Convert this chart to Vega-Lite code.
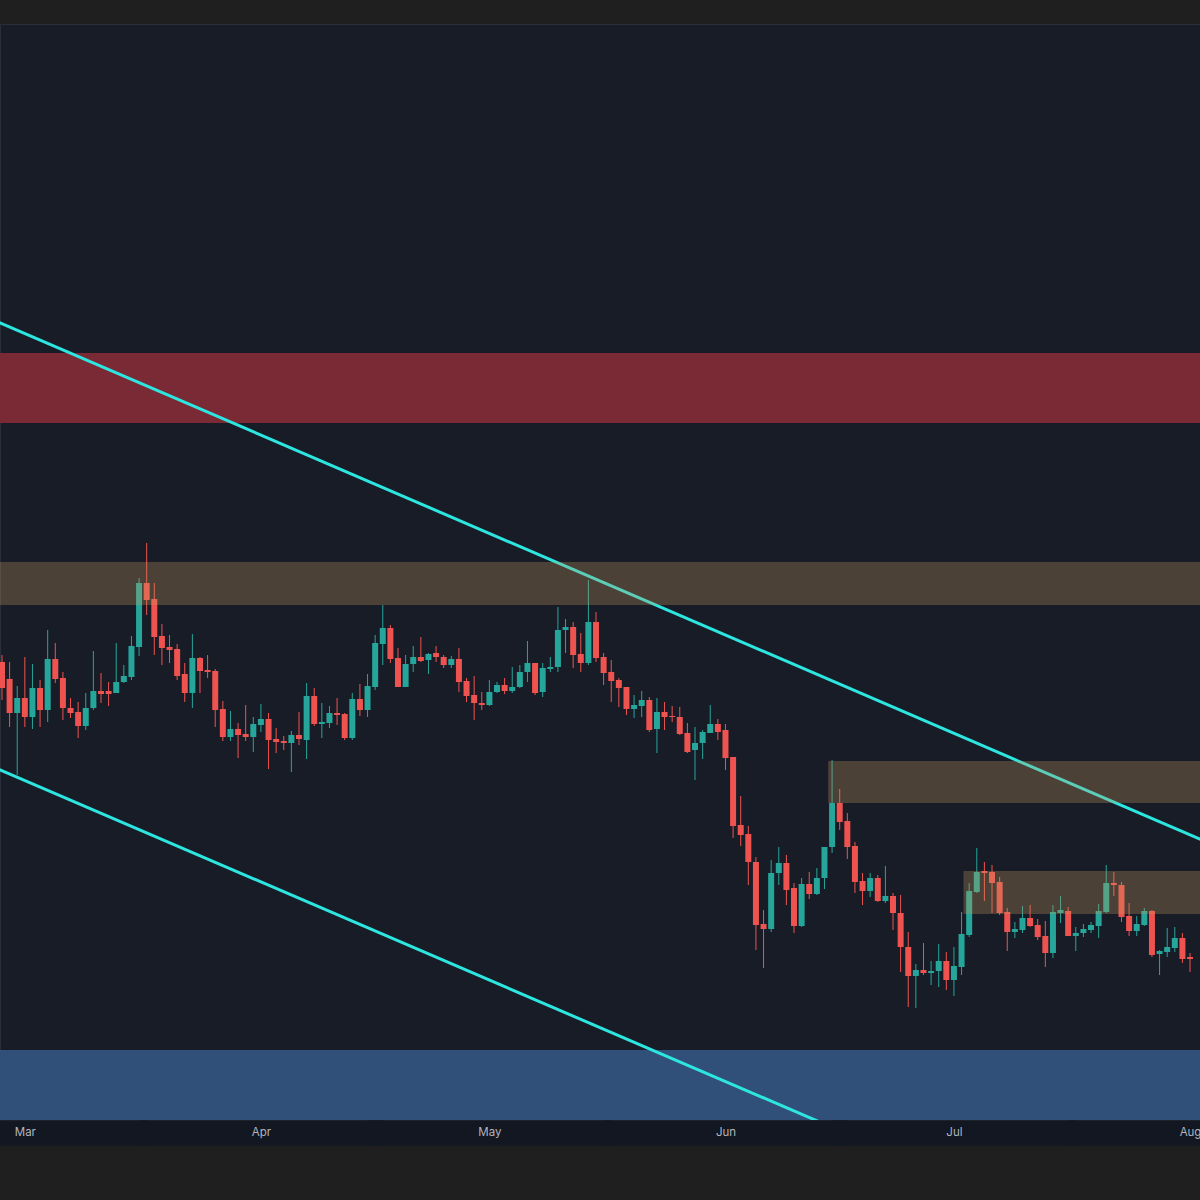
{
  "$schema": "https://vega.github.io/schema/vega-lite/v6.json",
  "width": 1200,
  "height": 1096,
  "autosize": {"type": "none"},
  "padding": {"top": 24, "left": 0, "right": 0, "bottom": 80},
  "background": "#1f1f1f",
  "config": {
    "view": {"fill": "#181c27", "stroke": "#2a2e39", "strokeWidth": 1},
    "axis": {"grid": false}
  },
  "datasets": {
    "candles": [
      {"d": "2023-02-26", "o": 458, "h": 465, "l": 420, "c": 432},
      {"d": "2023-02-27", "o": 441, "h": 458, "l": 393, "c": 407},
      {"d": "2023-02-28", "o": 407, "h": 434, "l": 345, "c": 422},
      {"d": "2023-03-01", "o": 422, "h": 463, "l": 393, "c": 403},
      {"d": "2023-03-02", "o": 403, "h": 456, "l": 391, "c": 432},
      {"d": "2023-03-03", "o": 432, "h": 440, "l": 393, "c": 410},
      {"d": "2023-03-04", "o": 410, "h": 490, "l": 398, "c": 461},
      {"d": "2023-03-05", "o": 461, "h": 477, "l": 437, "c": 441},
      {"d": "2023-03-06", "o": 442, "h": 448, "l": 400, "c": 412},
      {"d": "2023-03-07", "o": 412, "h": 422, "l": 402, "c": 407},
      {"d": "2023-03-08", "o": 408, "h": 418, "l": 382, "c": 394},
      {"d": "2023-03-09", "o": 394, "h": 427, "l": 390, "c": 412},
      {"d": "2023-03-10", "o": 412, "h": 469, "l": 410, "c": 429},
      {"d": "2023-03-11", "o": 429, "h": 447, "l": 417, "c": 426},
      {"d": "2023-03-12", "o": 429, "h": 438, "l": 414, "c": 426},
      {"d": "2023-03-13", "o": 427, "h": 477, "l": 427, "c": 438},
      {"d": "2023-03-14", "o": 438, "h": 455, "l": 437, "c": 444},
      {"d": "2023-03-15", "o": 443, "h": 484, "l": 440, "c": 474},
      {"d": "2023-03-16", "o": 473, "h": 542, "l": 464, "c": 537},
      {"d": "2023-03-17", "o": 537, "h": 577, "l": 505, "c": 520},
      {"d": "2023-03-18", "o": 521, "h": 537, "l": 465, "c": 483},
      {"d": "2023-03-19", "o": 484, "h": 496, "l": 455, "c": 472},
      {"d": "2023-03-20", "o": 473, "h": 485, "l": 457, "c": 470},
      {"d": "2023-03-21", "o": 471, "h": 476, "l": 440, "c": 444},
      {"d": "2023-03-22", "o": 446, "h": 457, "l": 418, "c": 427},
      {"d": "2023-03-23", "o": 427, "h": 486, "l": 412, "c": 462},
      {"d": "2023-03-24", "o": 462, "h": 463, "l": 427, "c": 449},
      {"d": "2023-03-25", "o": 450, "h": 465, "l": 442, "c": 448},
      {"d": "2023-03-26", "o": 449, "h": 451, "l": 393, "c": 410},
      {"d": "2023-03-27", "o": 411, "h": 419, "l": 379, "c": 383},
      {"d": "2023-03-28", "o": 383, "h": 409, "l": 379, "c": 391},
      {"d": "2023-03-29", "o": 391, "h": 397, "l": 362, "c": 385},
      {"d": "2023-03-30", "o": 386, "h": 415, "l": 379, "c": 383},
      {"d": "2023-03-31", "o": 383, "h": 403, "l": 368, "c": 396},
      {"d": "2023-04-01", "o": 395, "h": 416, "l": 388, "c": 401},
      {"d": "2023-04-02", "o": 401, "h": 407, "l": 351, "c": 380},
      {"d": "2023-04-03", "o": 381, "h": 392, "l": 367, "c": 378},
      {"d": "2023-04-04", "o": 379, "h": 384, "l": 370, "c": 377},
      {"d": "2023-04-05", "o": 377, "h": 389, "l": 348, "c": 385},
      {"d": "2023-04-06", "o": 385, "h": 408, "l": 375, "c": 381},
      {"d": "2023-04-07", "o": 380, "h": 437, "l": 361, "c": 424},
      {"d": "2023-04-08", "o": 424, "h": 432, "l": 394, "c": 396},
      {"d": "2023-04-09", "o": 396, "h": 417, "l": 382, "c": 398},
      {"d": "2023-04-10", "o": 397, "h": 414, "l": 392, "c": 407},
      {"d": "2023-04-11", "o": 407, "h": 422, "l": 395, "c": 405},
      {"d": "2023-04-12", "o": 406, "h": 407, "l": 380, "c": 382},
      {"d": "2023-04-13", "o": 382, "h": 427, "l": 380, "c": 421},
      {"d": "2023-04-14", "o": 421, "h": 436, "l": 404, "c": 410},
      {"d": "2023-04-15", "o": 410, "h": 446, "l": 403, "c": 434},
      {"d": "2023-04-16", "o": 433, "h": 485, "l": 430, "c": 477},
      {"d": "2023-04-17", "o": 476, "h": 515, "l": 455, "c": 492},
      {"d": "2023-04-18", "o": 492, "h": 495, "l": 457, "c": 461},
      {"d": "2023-04-19", "o": 462, "h": 472, "l": 433, "c": 433},
      {"d": "2023-04-20", "o": 433, "h": 465, "l": 433, "c": 456},
      {"d": "2023-04-21", "o": 456, "h": 474, "l": 448, "c": 463},
      {"d": "2023-04-22", "o": 463, "h": 483, "l": 458, "c": 459},
      {"d": "2023-04-23", "o": 460, "h": 467, "l": 446, "c": 466},
      {"d": "2023-04-24", "o": 467, "h": 474, "l": 458, "c": 463},
      {"d": "2023-04-25", "o": 463, "h": 465, "l": 452, "c": 455},
      {"d": "2023-04-26", "o": 455, "h": 464, "l": 452, "c": 461},
      {"d": "2023-04-27", "o": 461, "h": 472, "l": 428, "c": 438},
      {"d": "2023-04-28", "o": 439, "h": 442, "l": 418, "c": 424},
      {"d": "2023-04-29", "o": 425, "h": 444, "l": 400, "c": 417},
      {"d": "2023-04-30", "o": 417, "h": 428, "l": 410, "c": 415},
      {"d": "2023-05-01", "o": 415, "h": 440, "l": 414, "c": 428},
      {"d": "2023-05-02", "o": 428, "h": 438, "l": 427, "c": 435},
      {"d": "2023-05-03", "o": 435, "h": 442, "l": 426, "c": 429},
      {"d": "2023-05-04", "o": 429, "h": 453, "l": 427, "c": 433},
      {"d": "2023-05-05", "o": 433, "h": 455, "l": 432, "c": 448},
      {"d": "2023-05-06", "o": 448, "h": 479, "l": 438, "c": 457},
      {"d": "2023-05-07", "o": 457, "h": 457, "l": 425, "c": 427},
      {"d": "2023-05-08", "o": 428, "h": 457, "l": 423, "c": 452},
      {"d": "2023-05-09", "o": 451, "h": 463, "l": 448, "c": 453},
      {"d": "2023-05-10", "o": 453, "h": 513, "l": 448, "c": 490},
      {"d": "2023-05-11", "o": 490, "h": 501, "l": 467, "c": 493},
      {"d": "2023-05-12", "o": 493, "h": 498, "l": 452, "c": 465},
      {"d": "2023-05-13", "o": 466, "h": 487, "l": 448, "c": 457},
      {"d": "2023-05-14", "o": 457, "h": 540, "l": 455, "c": 498},
      {"d": "2023-05-15", "o": 498, "h": 508, "l": 458, "c": 462},
      {"d": "2023-05-16", "o": 463, "h": 467, "l": 435, "c": 447},
      {"d": "2023-05-17", "o": 448, "h": 460, "l": 418, "c": 439},
      {"d": "2023-05-18", "o": 440, "h": 442, "l": 413, "c": 432},
      {"d": "2023-05-19", "o": 433, "h": 433, "l": 405, "c": 411},
      {"d": "2023-05-20", "o": 411, "h": 425, "l": 402, "c": 415},
      {"d": "2023-05-21", "o": 414, "h": 429, "l": 403, "c": 420},
      {"d": "2023-05-22", "o": 420, "h": 423, "l": 388, "c": 390},
      {"d": "2023-05-23", "o": 391, "h": 422, "l": 367, "c": 408},
      {"d": "2023-05-24", "o": 408, "h": 418, "l": 390, "c": 403},
      {"d": "2023-05-25", "o": 404, "h": 414, "l": 398, "c": 403},
      {"d": "2023-05-26", "o": 403, "h": 413, "l": 385, "c": 386},
      {"d": "2023-05-27", "o": 387, "h": 397, "l": 367, "c": 368},
      {"d": "2023-05-28", "o": 370, "h": 393, "l": 340, "c": 377},
      {"d": "2023-05-29", "o": 377, "h": 390, "l": 361, "c": 388},
      {"d": "2023-05-30", "o": 387, "h": 415, "l": 387, "c": 396},
      {"d": "2023-05-31", "o": 396, "h": 401, "l": 380, "c": 388},
      {"d": "2023-06-01", "o": 390, "h": 396, "l": 350, "c": 362},
      {"d": "2023-06-02", "o": 363, "h": 363, "l": 282, "c": 294},
      {"d": "2023-06-03", "o": 295, "h": 324, "l": 274, "c": 285},
      {"d": "2023-06-04", "o": 286, "h": 294, "l": 235, "c": 258},
      {"d": "2023-06-05", "o": 258, "h": 263, "l": 170, "c": 195},
      {"d": "2023-06-06", "o": 196, "h": 210, "l": 152, "c": 191},
      {"d": "2023-06-07", "o": 191, "h": 260, "l": 188, "c": 247},
      {"d": "2023-06-08", "o": 247, "h": 273, "l": 235, "c": 257},
      {"d": "2023-06-09", "o": 257, "h": 265, "l": 215, "c": 230},
      {"d": "2023-06-10", "o": 232, "h": 237, "l": 187, "c": 194},
      {"d": "2023-06-11", "o": 194, "h": 242, "l": 193, "c": 236},
      {"d": "2023-06-12", "o": 236, "h": 248, "l": 221, "c": 226},
      {"d": "2023-06-13", "o": 226, "h": 252, "l": 225, "c": 242},
      {"d": "2023-06-14", "o": 242, "h": 273, "l": 231, "c": 273},
      {"d": "2023-06-15", "o": 273, "h": 360, "l": 267, "c": 317},
      {"d": "2023-06-16", "o": 317, "h": 331, "l": 290, "c": 298},
      {"d": "2023-06-17", "o": 299, "h": 307, "l": 261, "c": 273},
      {"d": "2023-06-18", "o": 274, "h": 278, "l": 227, "c": 238},
      {"d": "2023-06-19", "o": 239, "h": 247, "l": 215, "c": 229},
      {"d": "2023-06-20", "o": 229, "h": 247, "l": 223, "c": 242},
      {"d": "2023-06-21", "o": 242, "h": 245, "l": 218, "c": 219},
      {"d": "2023-06-22", "o": 219, "h": 254, "l": 217, "c": 224},
      {"d": "2023-06-23", "o": 224, "h": 227, "l": 190, "c": 207},
      {"d": "2023-06-24", "o": 207, "h": 225, "l": 148, "c": 173},
      {"d": "2023-06-25", "o": 173, "h": 188, "l": 113, "c": 144},
      {"d": "2023-06-26", "o": 144, "h": 156, "l": 112, "c": 150},
      {"d": "2023-06-27", "o": 150, "h": 177, "l": 145, "c": 147},
      {"d": "2023-06-28", "o": 147, "h": 159, "l": 135, "c": 149},
      {"d": "2023-06-29", "o": 149, "h": 176, "l": 133, "c": 159},
      {"d": "2023-06-30", "o": 159, "h": 168, "l": 130, "c": 140},
      {"d": "2023-07-01", "o": 140, "h": 173, "l": 124, "c": 154},
      {"d": "2023-07-02", "o": 153, "h": 208, "l": 145, "c": 186},
      {"d": "2023-07-03", "o": 185, "h": 237, "l": 183, "c": 229},
      {"d": "2023-07-04", "o": 228, "h": 272, "l": 227, "c": 248},
      {"d": "2023-07-05", "o": 249, "h": 258, "l": 219, "c": 247},
      {"d": "2023-07-06", "o": 248, "h": 255, "l": 207, "c": 237},
      {"d": "2023-07-07", "o": 238, "h": 243, "l": 205, "c": 207},
      {"d": "2023-07-08", "o": 208, "h": 212, "l": 169, "c": 188},
      {"d": "2023-07-09", "o": 188, "h": 198, "l": 182, "c": 191},
      {"d": "2023-07-10", "o": 190, "h": 214, "l": 187, "c": 202},
      {"d": "2023-07-11", "o": 202, "h": 215, "l": 193, "c": 194},
      {"d": "2023-07-12", "o": 195, "h": 201, "l": 180, "c": 183},
      {"d": "2023-07-13", "o": 184, "h": 199, "l": 153, "c": 167},
      {"d": "2023-07-14", "o": 167, "h": 215, "l": 162, "c": 208},
      {"d": "2023-07-15", "o": 207, "h": 224, "l": 197, "c": 210},
      {"d": "2023-07-16", "o": 209, "h": 213, "l": 184, "c": 184},
      {"d": "2023-07-17", "o": 184, "h": 193, "l": 169, "c": 187},
      {"d": "2023-07-18", "o": 187, "h": 196, "l": 183, "c": 191},
      {"d": "2023-07-19", "o": 190, "h": 198, "l": 187, "c": 195},
      {"d": "2023-07-20", "o": 194, "h": 216, "l": 182, "c": 209},
      {"d": "2023-07-21", "o": 208, "h": 255, "l": 207, "c": 237},
      {"d": "2023-07-22", "o": 237, "h": 248, "l": 224, "c": 235},
      {"d": "2023-07-23", "o": 235, "h": 238, "l": 198, "c": 203},
      {"d": "2023-07-24", "o": 204, "h": 217, "l": 184, "c": 189},
      {"d": "2023-07-25", "o": 189, "h": 204, "l": 184, "c": 196},
      {"d": "2023-07-26", "o": 195, "h": 212, "l": 194, "c": 209},
      {"d": "2023-07-27", "o": 209, "h": 210, "l": 163, "c": 165},
      {"d": "2023-07-28", "o": 166, "h": 170, "l": 145, "c": 169},
      {"d": "2023-07-29", "o": 168, "h": 192, "l": 163, "c": 173},
      {"d": "2023-07-30", "o": 172, "h": 193, "l": 168, "c": 182},
      {"d": "2023-07-31", "o": 182, "h": 187, "l": 157, "c": 161},
      {"d": "2023-08-01", "o": 163, "h": 167, "l": 148, "c": 161}
    ],
    "wideZones": [
      {"zone": "supply", "top": 767, "bot": 697},
      {"zone": "demand", "top": 70, "bot": 0}
    ],
    "tanZones": [
      {"start": "2023-02-01", "end": "2023-08-20", "top": 558, "bot": 515},
      {"start": "2023-06-14T12:00:00Z", "end": "2023-08-20", "top": 359, "bot": 317},
      {"start": "2023-07-02T06:00:00Z", "end": "2023-08-20", "top": 249, "bot": 206}
    ],
    "channel": [
      {"side": "upper", "d": "2023-02-20", "p": 816},
      {"side": "upper", "d": "2023-08-10", "p": 255.6},
      {"side": "lower", "d": "2023-02-20", "p": 368.9},
      {"side": "lower", "d": "2023-08-10", "p": -190.5}
    ]
  },
  "layer": [
    {
      "data": {"name": "wideZones"},
      "mark": {"type": "rect", "clip": true},
      "encoding": {
        "y": {"field": "top", "type": "quantitative", "scale": {"domain": [0, 1096], "nice": false, "zero": false}, "axis": null},
        "y2": {"field": "bot"},
        "color": {
          "field": "zone",
          "type": "nominal",
          "scale": {"domain": ["supply", "demand"], "range": ["#7a2a35", "#30507a"]},
          "legend": null
        }
      }
    },
    {
      "data": {"name": "candles"},
      "mark": {"type": "rule", "strokeWidth": 1, "clip": true},
      "encoding": {
        "x": {
          "field": "d",
          "type": "temporal",
          "scale": {"type": "utc", "domain": ["2023-02-26T09:30:00Z", "2023-08-01T15:40:00Z"], "nice": false},
          "title": null,
          "axis": {
            "format": "%b",
            "tickCount": {"interval": "month", "step": 1},
            "domain": false,
            "ticks": true,
            "tickSize": 25,
            "tickWidth": 245,
            "tickColor": "#131722",
            "tickCap": "butt",
            "labelPadding": -12.5,
            "labelBaseline": "middle",
            "labelAlign": "center",
            "labelFlush": false,
            "labelBound": false,
            "labelOverlap": false,
            "labelColor": "#b2b5be",
            "labelFont": "Inter",
            "labelFontSize": 11.5
          }
        },
        "y": {"field": "l", "type": "quantitative"},
        "y2": {"field": "h"},
        "color": {"condition": {"test": "datum.c >= datum.o", "value": "#26a69a"}, "value": "#ef5350"}
      }
    },
    {
      "data": {"name": "candles"},
      "mark": {"type": "bar", "width": 6, "clip": true},
      "encoding": {
        "x": {"field": "d", "type": "temporal"},
        "y": {"field": "o", "type": "quantitative"},
        "y2": {"field": "c"},
        "color": {"condition": {"test": "datum.c >= datum.o", "value": "#26a69a"}, "value": "#ef5350"}
      }
    },
    {
      "data": {"name": "channel"},
      "mark": {"type": "line", "strokeWidth": 3, "color": "#2ee6e0", "clip": true},
      "encoding": {
        "x": {"field": "d", "type": "temporal"},
        "y": {"field": "p", "type": "quantitative"},
        "detail": {"field": "side"}
      }
    },
    {
      "data": {"name": "tanZones"},
      "mark": {"type": "rect", "color": "#c8975e", "opacity": 0.3, "clip": true},
      "encoding": {
        "x": {"field": "start", "type": "temporal"},
        "x2": {"field": "end"},
        "y": {"field": "top", "type": "quantitative"},
        "y2": {"field": "bot"}
      }
    }
  ]
}
